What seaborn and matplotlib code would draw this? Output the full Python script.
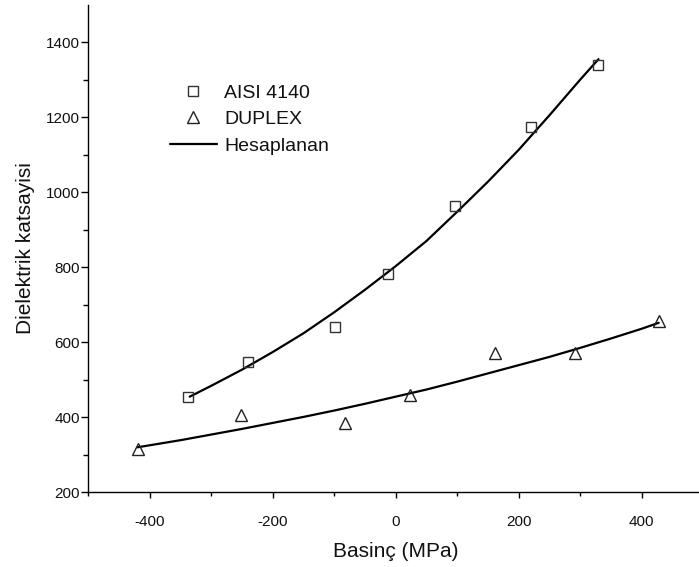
import matplotlib
matplotlib.use("Agg")
import matplotlib.pyplot as plt
import seaborn as sns
import pandas as pd
from matplotlib.lines import Line2D
from matplotlib.ticker import FixedLocator

# --- data ---
aisi_x = [-338, -241, -99, -12, 97, 221, 329]
aisi_y = [453, 547, 642, 782, 963, 1174, 1339]

duplex_x = [-419, -252, -83, 24, 161, 291, 429]
duplex_y = [316, 406, 386, 459, 571, 571, 657]

calc_aisi_x = [-335, -300, -250, -200, -150, -100, -50, 0, 50, 100, 150, 200, 250, 300, 330]
calc_aisi_y = [455, 484, 527, 574, 624, 680, 740, 803, 870, 948, 1028, 1113, 1205, 1300, 1355]

calc_dup_x = [-420, -350, -300, -250, -200, -150, -100, -50, 0, 50, 100, 150, 200, 250, 300, 350, 400, 428]
calc_dup_y = [320, 339, 354, 369, 385, 401, 418, 436, 455, 474, 495, 517, 539, 561, 585, 610, 636, 652]

x_ticks = [-400, -200, 0, 200, 400]
y_ticks = [200, 400, 600, 800, 1000, 1200, 1400]

sns.set_theme(style="white")
plt.rcParams['font.family'] = ['Liberation Sans', 'DejaVu Sans']
plt.rcParams['axes.unicode_minus'] = False

fig = plt.figure(figsize=(6.99, 5.67), dpi=100)
ax = fig.add_axes([88.3 / 699, (567 - 492.3) / 567, (703 - 88.3) / 699, (492.3 - 4.8) / 567])

df_a = pd.DataFrame({"x": aisi_x, "y": aisi_y})
df_d = pd.DataFrame({"x": duplex_x, "y": duplex_y})
df_ca = pd.DataFrame({"x": calc_aisi_x, "y": calc_aisi_y})
df_cd = pd.DataFrame({"x": calc_dup_x, "y": calc_dup_y})

sns.lineplot(data=df_ca, x="x", y="y", ax=ax, color="black", linewidth=1.6, sort=True, zorder=2)
sns.lineplot(data=df_cd, x="x", y="y", ax=ax, color="black", linewidth=1.6, sort=True, zorder=2)
sns.lineplot(data=df_a, x="x", y="y", ax=ax, linestyle="none", marker="s", markersize=6.5,
             markerfacecolor="none", markeredgecolor="#333333", markeredgewidth=1.0, color="#333333", zorder=3)
sns.lineplot(data=df_d, x="x", y="y", ax=ax, linestyle="none", marker="^", markersize=8.5,
             markerfacecolor="none", markeredgecolor="#222222", markeredgewidth=1.0, color="#222222", zorder=3)

ax.set_xlim(-500, 500)
ax.set_ylim(200, 1500)
ax.set_xticks(x_ticks)
ax.set_yticks(y_ticks)
ax.xaxis.set_minor_locator(FixedLocator([-500, -300, -100, 100, 300]))
ax.yaxis.set_minor_locator(FixedLocator([300, 500, 700, 900, 1100, 1300]))

for s in ["top", "right"]:
    ax.spines[s].set_visible(False)
for s in ["left", "bottom"]:
    ax.spines[s].set_color("black")
    ax.spines[s].set_linewidth(1.0)

ax.tick_params(axis="x", which="major", direction="out", length=4, width=1, color="black",
               labelsize=11, pad=12, bottom=True, labelcolor="#111111")
ax.tick_params(axis="x", which="minor", direction="out", length=3, width=1, color="black", bottom=True)
ax.tick_params(axis="y", which="major", direction="out", length=5, width=1, color="black",
               labelsize=11, pad=0.8, left=True, labelcolor="#111111")
ax.tick_params(axis="y", which="minor", direction="out", length=3.5, width=1, color="black", left=True)

ax.set_xlabel("Basinç (MPa)", fontsize=15, labelpad=10, color="#111111")
ax.set_ylabel("Dielektrik katsayisi", fontsize=15, labelpad=8, color="#111111")
ax.grid(False)

handles = [
    Line2D([], [], linestyle="none", marker="s", markersize=6.5, markerfacecolor="none",
           markeredgecolor="#333333", markeredgewidth=1.0),
    Line2D([], [], linestyle="none", marker="^", markersize=8.5, markerfacecolor="none",
           markeredgecolor="#222222", markeredgewidth=1.0),
    Line2D([], [], color="black", linewidth=1.6),
]
leg = ax.legend(handles, ["AISI 4140", "DUPLEX", "Hesaplanan"], loc="upper left",
                bbox_to_anchor=(0.117, 0.857), frameon=False, fontsize=14,
                handlelength=2.4, handletextpad=0.4, labelspacing=0.45, borderpad=0)
for t in leg.get_texts():
    t.set_color("#111111")

fig.savefig("out.png", dpi=100)
